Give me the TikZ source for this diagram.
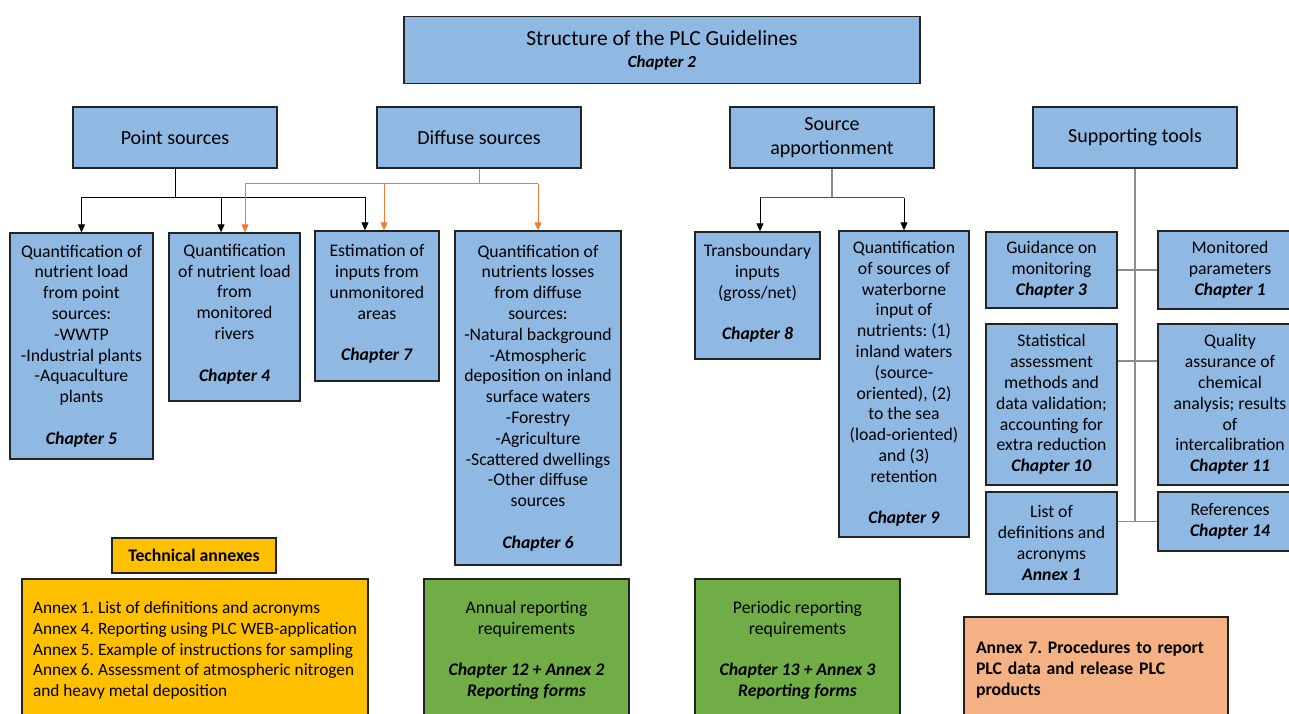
\documentclass[tikz,border=0pt]{standalone}
\usepackage{fontspec}
\setmainfont{Carlito}
\usetikzlibrary{arrows.meta}
\definecolor{blu}{RGB}{143,185,226}
\definecolor{bord}{RGB}{35,35,35}
\definecolor{ylw}{RGB}{255,192,0}
\definecolor{grn}{RGB}{112,173,71}
\definecolor{sal}{RGB}{244,177,131}
\definecolor{orn}{RGB}{237,125,49}
\definecolor{gry}{RGB}{140,140,140}
\definecolor{dgry}{RGB}{80,80,80}
\newcommand\chp[1]{\textbf{\textit{#1}}}
\frenchspacing
\begin{document}
\begin{tikzpicture}[x=1pt,y=-1pt,
  box/.style={draw=bord,line width=1.3pt,fill=blu,align=center,inner sep=0pt,
    font=\fontsize{17.7}{20.8}\selectfont},
  hbox/.style={box,font=\fontsize{20}{24.4}\selectfont},
  con/.style={line width=0.9pt},
  blk/.style={con,draw=black},
  orl/.style={con,draw=orn},
  gryl/.style={line width=1.1pt,draw=gry},
  dgl/.style={con,draw=dgry},
  arr/.style={-{Triangle[width=7pt,length=8pt]}}
]
\clip (0,0) rectangle (1289,713);
\fill[white] (0,0) rectangle (1289,713);

% top
\node[box,minimum width=516,minimum height=67,font=\fontsize{21.5}{22}\selectfont] (title) at (662,50)
  {Structure of the PLC Guidelines\\{\fontsize{17}{17}\selectfont\chp{Chapter 2}}};
\node[hbox,minimum width=204,minimum height=61] (ps) at (175,137.5) {Point sources};
\node[hbox,minimum width=204,minimum height=61] (ds) at (479,137.5) {Diffuse sources};
\node[hbox,minimum width=204,minimum height=61] (sa) at (832,137.5) {Source\\apportionment};
\node[hbox,minimum width=204,minimum height=61] (st) at (1135,137.5) {Supporting tools};

% row 2
\node[box,minimum width=143,minimum height=226] (b1) at (81.5,346)
  {Quantification of\\nutrient load\\from point\\sources:\\-WWTP\\-Industrial plants\\-Aquaculture\\plants\\[20.8pt]\chp{Chapter 5}};
\node[box,minimum width=131,minimum height=168] (b2) at (234.5,317)
  {Quantification\\of nutrient load\\from\\monitored\\rivers\\[20.8pt]\chp{Chapter 4}\\[-12pt]\mbox{}};
\node[box,minimum width=124,minimum height=150] (b3) at (377,306)
  {Estimation of\\inputs from\\unmonitored\\areas\\[20.8pt]\chp{Chapter 7}\\[-14pt]\mbox{}};
\node[box,minimum width=166,minimum height=334] (b4) at (538,398)
  {Quantification of\\nutrients losses\\from diffuse\\sources:\\-Natural background\\-Atmospheric\\deposition on inland\\surface waters\\-Forestry\\-Agriculture\\-Scattered dwellings\\-Other diffuse\\sources\\[20.8pt]\chp{Chapter 6}};
\node[box,minimum width=125,minimum height=127] (b5) at (757.5,295.5)
  {Transboundary\\inputs\\(gross/net)\\[20.8pt]\chp{Chapter 8}\\[-14pt]\mbox{}};
\node[box,minimum width=130,minimum height=306] (b6) at (904,384)
  {Quantification\\of sources of\\waterborne\\input of\\nutrients: (1)\\inland waters\\(source-\\oriented), (2)\\to the sea\\(load-oriented)\\and (3)\\retention\\[20.8pt]\chp{Chapter 9}};

% supporting tools
\node[box,minimum width=131,minimum height=76] (g1) at (1051.5,270)
  {Guidance on\\monitoring\\\chp{Chapter 3}};
\node[box,minimum width=144,minimum height=78] (m1) at (1230,270)
  {Monitored\\parameters\\\chp{Chapter 1}};
\node[box,minimum width=131,minimum height=161] (stat) at (1051.5,404.5)
  {Statistical\\assessment\\methods and\\data validation;\\accounting for\\extra reduction\\\chp{Chapter 10}};
\node[box,minimum width=144,minimum height=161] (qual) at (1230,404.5)
  {Quality\\assurance of\\chemical\\analysis; results\\of\\intercalibration\\\chp{Chapter 11}};
\node[box,minimum width=131,minimum height=102] (list) at (1051.5,543)
  {List of\\definitions and\\acronyms\\\chp{Annex 1}};
\node[box,minimum width=144,minimum height=59] (refs) at (1230,521.5)
  {References\\\chp{Chapter 14}};

% bottom
\node[box,fill=ylw,minimum width=164,minimum height=35] (ta) at (194,555.5) {\textbf{Technical annexes}};
\node[box,fill=ylw,minimum width=346,minimum height=143,align=left,font=\fontsize{17.3}{20.8}\selectfont] (ann) at (195,650.5)
  {Annex 1. List of definitions and acronyms\\Annex 4. Reporting using PLC WEB-application\\Annex 5. Example of instructions for sampling\\Annex 6. Assessment of atmospheric nitrogen\\and heavy metal deposition};
\node[box,fill=grn,minimum width=205,minimum height=143] (gr1) at (526.5,650.5)
  {Annual reporting\\requirements\\[20.8pt]\chp{Chapter 12 + Annex 2}\\\chp{Reporting forms}};
\node[box,fill=grn,minimum width=205,minimum height=143] (gr2) at (797.5,650.5)
  {Periodic reporting\\requirements\\[20.8pt]\chp{Chapter 13 + Annex 3}\\\chp{Reporting forms}};
\node[box,fill=sal,minimum width=264,minimum height=105,text width=240,align=left] (salb) at (1096,669.5)
  {\textbf{Annex 7. Procedures to report\\PLC data and release PLC\\products}};

% point sources connectors
\path (ps.south) ++(0,28.5) coordinate (psj);
\coordinate (b2k) at ([xshift=-13.5pt]b2.north);
\coordinate (b3k) at ([xshift=-12pt]b3.north);
\draw[blk] (ps.south) -- (psj);
\draw[blk] (b1.north |- psj) -- (b3k |- psj);
\draw[blk,arr] (b1.north |- psj) -- (b1.north);
\draw[blk,arr] (b2k |- psj) -- (b2k);
\draw[blk,arr] (b3k |- psj) -- (b3k);

% diffuse sources connectors
\path (ds.south) ++(0,15) coordinate (dsj);
\coordinate (b2o) at ([xshift=10.5pt]b2.north);
\coordinate (b3o) at ([xshift=7pt]b3.north);
\draw[orl] (ds.south) -- (dsj);
\draw[orl] (b2o |- dsj) -- (b4.north |- dsj);
\draw[orl,arr] (b2o |- dsj) -- (b2o);
\draw[orl,arr] (b3o |- dsj) -- (b3o);
\draw[orl,arr] (b4.north |- dsj) -- (b4.north);

% source apportionment connectors
\path (sa.south) ++(0,29) coordinate (saj);
\coordinate (b5k) at ([xshift=2.5pt]b5.north);
\draw[gryl] (sa.south) -- (saj);
\draw[dgl] (b5k |- saj) -- (b6.north |- saj);
\draw[dgl,arr,draw=black] (b5k |- saj) -- (b5k);
\draw[dgl,arr,draw=black] (b6.north |- saj) -- (b6.north);

% supporting tools connectors
\coordinate (sqa) at ([yshift=43.5pt]stat.east);
\draw[gryl] (st.south) -- (st.south |- refs.west);
\draw[gryl] (g1.east) -- (m1.west);
\draw[gryl] (sqa) -- (sqa -| qual.west);
\draw[gryl] (refs.west) -- (refs.west -| list.east);
\end{tikzpicture}
\end{document}
